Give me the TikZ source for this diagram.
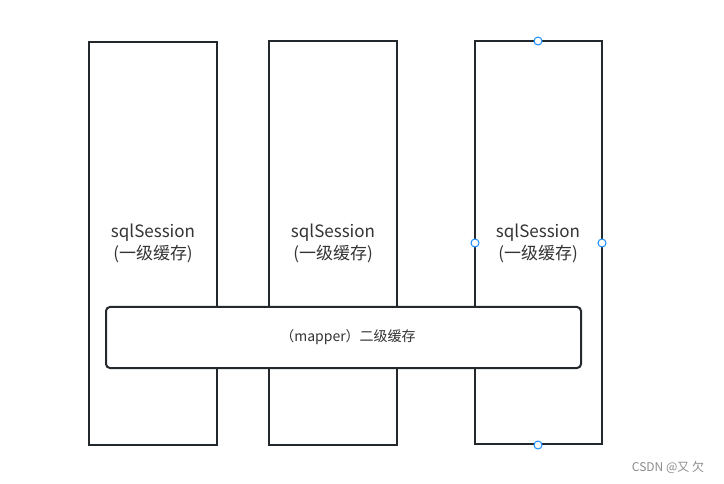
\documentclass[tikz,border=0pt]{standalone}
\usepackage{fontspec}
\setmainfont{Noto Sans CJK SC}
\begin{document}
\begin{tikzpicture}[x=1pt,y=-1pt,
  col/.style={draw=linedark,line width=2pt,fill=white},
  bar/.style={draw=linedark,line width=2pt,fill=white,rounded corners=4pt},
  handle/.style={circle,draw=handleblue,fill=white,line width=1pt,minimum size=8pt,inner sep=0pt},
  lbl/.style={text=textgray,font=\fontsize{17}{22}\selectfont,align=center}]
\definecolor{linedark}{HTML}{23282D}
\definecolor{handleblue}{HTML}{1A8CFF}
\definecolor{textgray}{HTML}{333333}
\useasboundingbox (0,0) rectangle (724,484);
\fill[white] (0,0) rectangle (724,484);
\draw[col] (89,42) rectangle (217,445);
\draw[col] (269,41) rectangle (397,445);
\draw[col] (475,41) rectangle (602,444);
\node[lbl] (s1) at (153,243) {sqlSession\\(一级缓存)};
\node[lbl] (s2) at (333,243) {sqlSession\\(一级缓存)};
\node[lbl] (s3) at (538,243) {sqlSession\\(一级缓存)};
\draw[bar] (106,307) rectangle (581,368);
\node[text=textgray,font=\fontsize{14}{17}\selectfont] (m) at (348,337) {（mapper）二级缓存};
\node[handle] (h1) at (538,41) {};
\node[handle] (h2) at (475,243) {};
\node[handle] (h3) at (602,243) {};
\node[handle] (h4) at (538,445) {};
\node[text=black!45,font=\fontsize{12}{14}\selectfont] (wm) at (668,467) {CSDN @又 欠};
\end{tikzpicture}
\end{document}
